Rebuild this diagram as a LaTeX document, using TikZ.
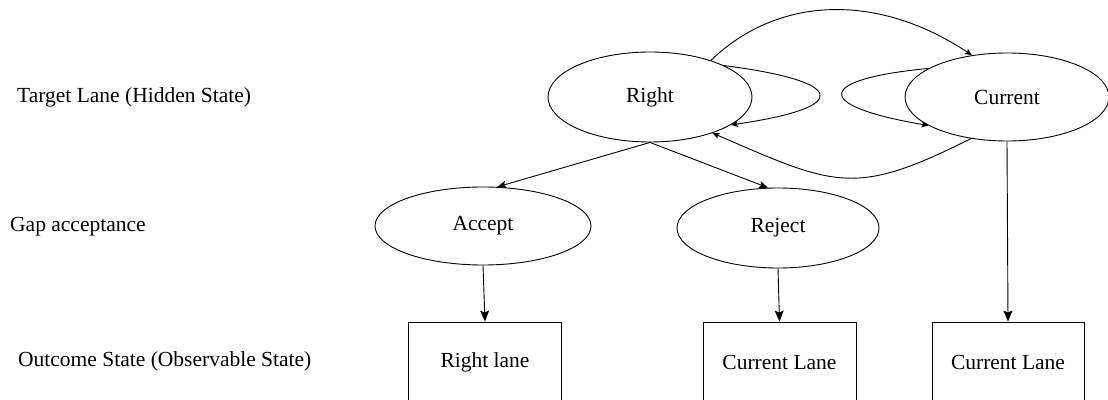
\documentclass[tikz,border=0pt]{standalone}
\usepackage{fontspec}
\setmainfont{Liberation Serif}
\usetikzlibrary{shapes.geometric,arrows.meta}
\begin{document}
\begin{tikzpicture}[x=1pt,y=1pt,
  every node/.style={font=\fontsize{21.5}{24}\selectfont},
  ell/.style={draw,ellipse,inner sep=0pt,line width=0.9pt},
  outbox/.style={draw,rectangle,minimum width=153pt,minimum height=80pt,inner sep=0pt,line width=0.9pt},
  lbl/.style={anchor=west,inner sep=0pt},
  conn/.style={line width=0.9pt},
  bigarr/.style={-{Stealth[length=11pt,width=9pt,inset=2pt]}},
  midarr/.style={-{Stealth[length=9pt,width=7pt,inset=2pt]}},
  smallarr/.style={-{Stealth[length=7pt,width=6pt,inset=1.5pt]}}]
\clip (0,0) rectangle (1108,399);
% left labels
\node[lbl] (t1) at (17,302) {Target Lane (Hidden State)};
\node[lbl] (t2) at (10,172) {Gap acceptance};
\node[lbl] (t3) at (18,38) {Outcome State (Observable State)};
% states
\node[ell,minimum width=204pt,minimum height=90pt] (R) at (650,302) {Right};
\node[ell,minimum width=204pt,minimum height=88pt] (C) at (1007,302) {Current};
\node[ell,minimum width=216pt,minimum height=78pt] (A) at (483,173) {Accept};
\node[ell,minimum width=202pt,minimum height=80pt] (J) at (778,171) {Reject};
\node[outbox] (B1) at (485,37) {Right lane};
\node[outbox] (B2) at (779.5,37) {Current Lane};
\node[outbox,minimum width=152pt] (B3) at (1008,37) {Current Lane};
% connectors
\draw[conn,midarr] (R.south) -- (A.70);
\draw[conn,midarr] (R.south) -- (J.104);
\draw[conn,bigarr] (A.south) -- (B1.north);
\draw[conn,bigarr] (J.south) -- (B2.north);
\draw[conn,bigarr] (C.south) -- (B3.north);
\draw[conn,smallarr] (R.31) .. controls (780,405) and (880,405) .. (C.130);
\draw[conn,smallarr] (R.23) .. controls (845,318) and (855,292) .. (R.-19);
\draw[conn,smallarr] (C.160) .. controls (818,320) and (809,294) .. (C.-160);
\draw[conn,smallarr] (C.-131) .. controls (854,201.5) and (835,213) .. (R.-30);
\end{tikzpicture}
\end{document}
